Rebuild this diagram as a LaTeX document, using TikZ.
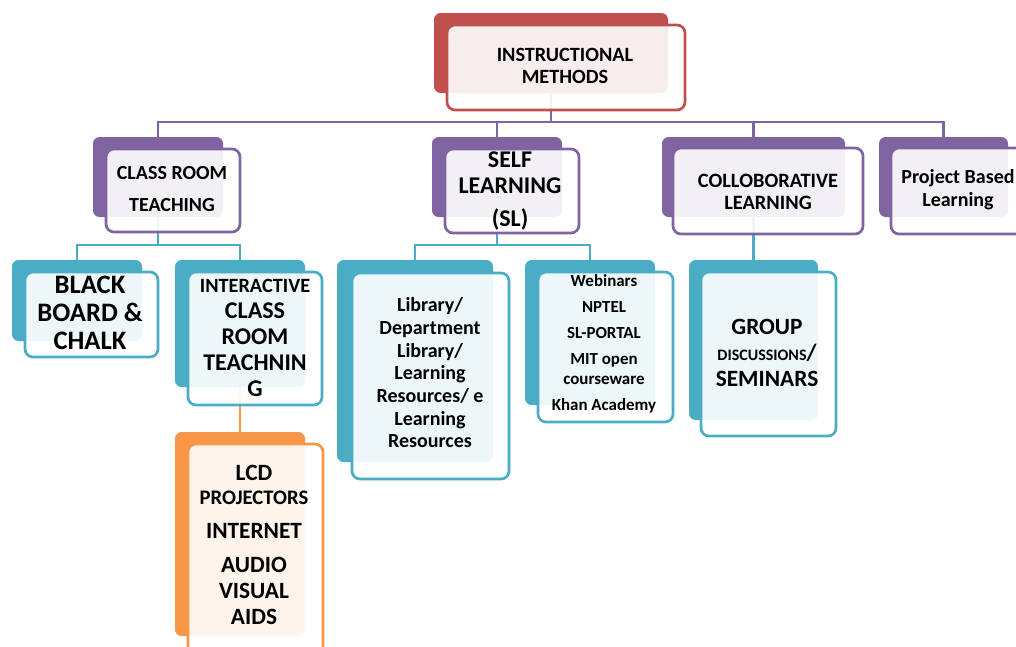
\documentclass[tikz,border=0pt]{standalone}
\usepackage{fontspec}
\setmainfont{Carlito}
\usetikzlibrary{fit,backgrounds}
\definecolor{cred}{HTML}{C0504D}
\definecolor{cpur}{HTML}{8064A2}
\definecolor{cteal}{HTML}{4BACC6}
\definecolor{corg}{HTML}{F79646}
\newcommand\fs[2]{\fontsize{#1}{#2}\selectfont\bfseries}
\tikzset{
  backbox/.style={fill=#1, rounded corners=5pt, inner sep=0pt},
  frontbox/.style={draw=#1, line width=2pt, fill=white, fill opacity=0.9, rounded corners=6pt, inner sep=0pt},
  boxtext/.style={align=center, text=black, inner sep=0pt},
  conn/.style={line width=2.1pt, draw=#1},
}
\newcommand\twobox[6]{%
  \node[backbox=#2, fit={#3 #4}] (#1-back) {};
  \node[frontbox=#2, fit={#5 #6}] (#1) {};
}
\begin{document}
\begin{tikzpicture}[x=0.75pt, y=-0.75pt]
\useasboundingbox (0,0) rectangle (1016,646);
\clip (0,0) rectangle (1016,646);

% boxes
\twobox{im}{cred}{(434,13)}{(668,93)}{(447,25)}{(685,110)}
\twobox{crt}{cpur}{(93,137)}{(223,217)}{(106,149)}{(240,232)}
\twobox{sl}{cpur}{(432,137)}{(562,217)}{(445,149)}{(579,233)}
\twobox{cl}{cpur}{(662,137)}{(845,217)}{(673,148)}{(863,234)}
\twobox{pb}{cpur}{(879,137)}{(1008,217)}{(891,148)}{(1040,234)}
\twobox{bb}{cteal}{(12,260)}{(142,341)}{(25,272)}{(158,357)}
\twobox{ict}{cteal}{(175,260)}{(305,387)}{(188,272)}{(322,405)}
\twobox{lcd}{corg}{(175,432)}{(305,636)}{(188,444)}{(323,670)}
\twobox{lib}{cteal}{(337,260)}{(493,462)}{(352,273)}{(509,479)}
\twobox{web}{cteal}{(525,260)}{(655,405)}{(538,272)}{(673,422)}
\twobox{gd}{cteal}{(689,260)}{(818,420)}{(701,272)}{(836,436)}

% texts
\node[boxtext, font=\fs{15.2}{16.5}] (im-t) at (565,66) {INSTRUCTIONAL\\METHODS};
\node[boxtext, font=\fs{15}{24}] (crt-t) at (172,189) {CLASS ROOM\\TEACHING};
\node[boxtext, font=\fs{18}{19.5}] (sl-t) at (510,191) {SELF\\LEARNING\\[5pt](SL)};
\node[boxtext, font=\fs{15.3}{16.5}] (cl-t) at (768,192) {COLLOBORATIVE\\LEARNING};
\node[boxtext, font=\fs{15}{17}] (pb-t) at (958,190) {Project Based\\Learning};
\node[boxtext, font=\fs{20}{21}] (bb-t) at (90,313) {BLACK\\BOARD \&\\CHALK};
\node[boxtext, font=\fs{18}{19.5}] (ict-t) at (255,338) {{\fs{15.2}{19.5}INTERACTIVE}\\CLASS\\ROOM\\TEACHNIN\\G};
\node[boxtext, font=\fs{17.5}{19.5}] (lcd-t) at (254,545) {LCD\\[-1.5pt]{\fs{15.5}{19.5}PROJECTORS}\\[6pt]INTERNET\\[6.5pt]AUDIO\\VISUAL\\AIDS};
\node[boxtext, font=\fs{15}{17}] (lib-t) at (430,373) {Library/\\Department\\Library/\\Learning\\Resources/ e\\Learning\\Resources};
\node[boxtext, font=\fs{12.7}{14.5}] (web-t) at (604,344) {Webinars\\[5pt]NPTEL\\[5pt]SL-PORTAL\\[5pt]MIT open\\courseware\\[5pt]Khan Academy};
\node[boxtext, font=\fs{17.5}{19.5}] (gd-t) at (767,353) {GROUP\\{\fs{12}{19.5}DISCUSSIONS}/\\SEMINARS};

% connectors
\coordinate (bus) at (0,122);
\coordinate (bus2) at (0,245);
\begin{scope}[on background layer]
  \draw[conn=cpur] (im-back.south) -- (im-back.south |- bus);
  \draw[conn=cpur] (crt-back.north) |- (pb-back.north |- bus) -- (pb-back.north);
  \draw[conn=cpur] (sl-back.north) -- (sl-back.north |- bus);
  \draw[conn=cpur] (cl-back.north) -- (cl-back.north |- bus);
  \draw[conn=cteal] (crt-back.south) -- (crt-back.south |- bus2);
  \draw[conn=cteal] (bb-back.north) |- (ict-back.north |- bus2) -- (ict-back.north);
  \draw[conn=corg] (ict-back.south) -- (lcd-back.north);
  \draw[conn=cteal] (sl-back.south) -- (sl-back.south |- bus2);
  \draw[conn=cteal] (lib-back.north) |- (web-back.north |- bus2) -- (web-back.north);
  \draw[conn=cteal] (cl-back.south) -- (gd-back.north);
\end{scope}
\end{tikzpicture}
\end{document}
